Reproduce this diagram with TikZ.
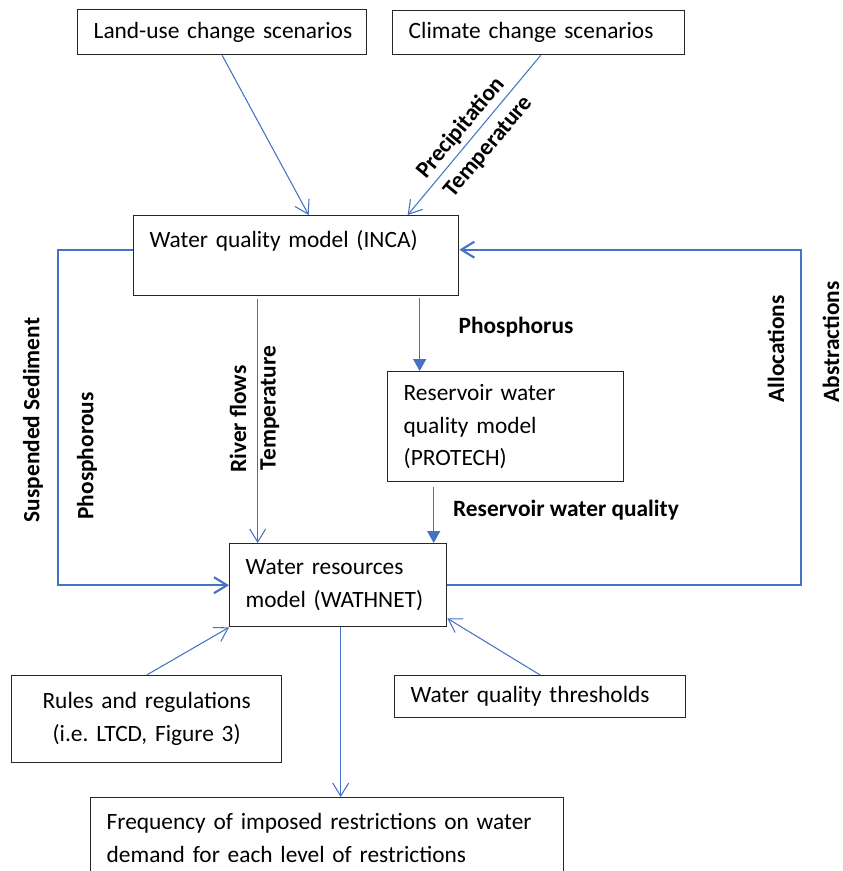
\documentclass[tikz,border=0pt]{standalone}
\usepackage{fontspec}
\setmainfont{Carlito}
\usepackage{tikz}
\usepackage{xcolor}
\usetikzlibrary{arrows.meta, positioning}
\definecolor{wordblue}{HTML}{4472C4}
\frenchspacing

\begin{document}
\begin{tikzpicture}[
  x=0.02cm, y=-0.02cm,
  font=\fontsize{13.3}{18.7}\selectfont,
  box/.style={draw=black!85, line width=0.8pt, anchor=north west, align=left, inner xsep=0.32cm},
  lbl/.style={font=\fontsize{13.3}{18.7}\selectfont\bfseries},
  arr/.style={-{Straight Barb[length=2.6mm, width=3.2mm]}, wordblue, line width=0.6pt},
  loop/.style={-{Straight Barb[length=2.6mm, width=3.2mm]}, wordblue, line width=1.2pt},
  tri/.style={-{Triangle[length=2.4mm, width=2.6mm]}, wordblue, line width=0.9pt}
]
  \useasboundingbox (0,0) rectangle (842,871);

  \node[box, minimum width=5.78cm, minimum height=0.9cm, text width=5.14cm] (land) at (77,9) {\mbox{Land-use change scenarios}};
  \node[box, minimum width=5.84cm, minimum height=0.88cm, text width=5.2cm] (climate) at (392,10) {\mbox{Climate change scenarios}};
  \node[box, minimum width=6.5cm, minimum height=1.6cm, text width=5.86cm, inner ysep=0pt, text height=0.64cm, text depth=0.96cm] (inca) at (133,215) {Water quality model (INCA)};
  \node[box, minimum width=4.72cm, minimum height=2.2cm, text width=4.08cm] (protech) at (387,371) {Reservoir water\\quality model\\(PROTECH)};
  \node[box, minimum width=4.34cm, minimum height=1.66cm, text width=3.7cm] (wathnet) at (229,543) {Water resources\\\mbox{model (WATHNET)}};
  \node[box, align=center, minimum width=5.4cm, minimum height=1.74cm, text width=4.76cm] (rules) at (11,675) {Rules and regulations\\(i.e. LTCD, Figure 3)};
  \node[box, minimum width=5.82cm, minimum height=0.84cm, text width=5.18cm] (thresh) at (394,675) {\mbox{Water quality thresholds}};
  \node[box, minimum width=9.46cm, minimum height=1.6cm, text width=8.82cm] (freq) at (90,797) {Frequency of imposed restrictions on water\\demand for each level of restrictions};

  \coordinate (lft) at (58,400);
  \coordinate (rgt) at (801,400);

  \draw[arr] (land.south) -- ([xshift=0.25cm]inca.north);
  \draw[arr] ([xshift=0.04cm]climate.south) -- ([xshift=2.23cm]inca.north);
  \draw[loop] ([yshift=0.12cm]inca.west) -| (lft) |- (wathnet.west);
  \draw[loop] (wathnet.east) -| (rgt) |- ([yshift=0.12cm]inca.east);
  \draw[arr] ([xshift=-0.77cm, yshift=-0.06cm]inca.south) -- ([xshift=-0.77cm]inca.south |- wathnet.north);
  \draw[tri] ([xshift=2.47cm, yshift=-0.04cm]inca.south) -- ([xshift=2.47cm]inca.south |- protech.north);
  \draw[tri] ([xshift=-1.44cm, yshift=-0.1cm]protech.south) -- ([xshift=-1.44cm]protech.south |- wathnet.north);
  \draw[arr] ([xshift=0.05cm]wathnet.south) -- ([xshift=0.05cm]wathnet.south |- freq.north);
  \draw[arr] (rules.north) -- (wathnet.south west);
  \draw[arr] (thresh.north) -- ([yshift=0.18cm]wathnet.south east);

  \node[lbl, rotate=50] (precip) at (461,128) {Precipitation};
  \node[lbl, rotate=50] (temp1) at (489,147) {Temperature};
  \node[lbl] (phos1) at (516,327) {Phosphorus};
  \node[lbl] (resq) at (566,510) {Reservoir water quality};
  \node[lbl, rotate=90] (sused) at (33,420) {Suspended Sediment};
  \node[lbl, rotate=90] (phos2) at (87,456) {Phosphorous};
  \node[lbl, rotate=90] (flows) at (238,419) {River flows};
  \node[lbl, rotate=90] (temp2) at (270,408) {Temperature};
  \node[lbl, rotate=90] (alloc) at (776,349) {Allocations};
  \node[lbl, rotate=90] (abstr) at (831,342) {Abstractions};
\end{tikzpicture}
\end{document}
